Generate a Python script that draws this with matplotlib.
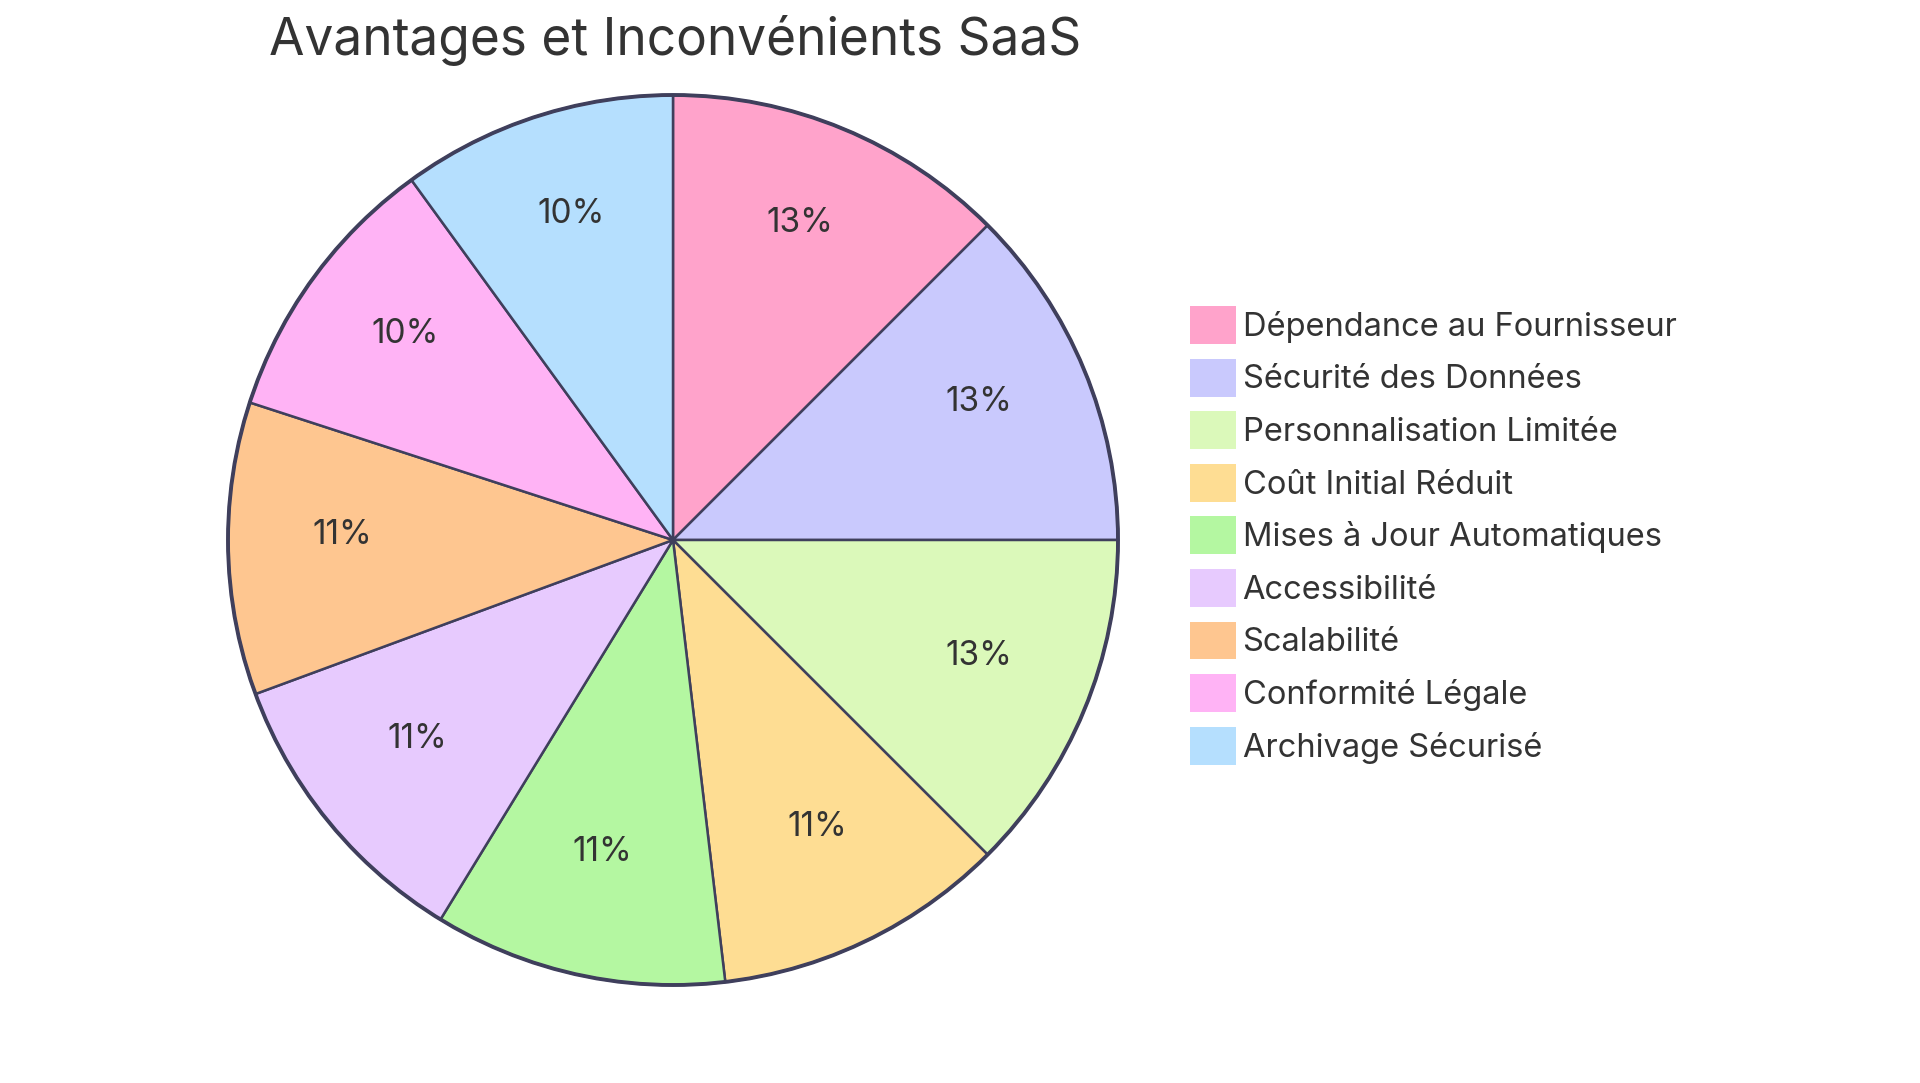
import matplotlib.pyplot as plt
from matplotlib.patches import Circle

plt.rcParams['font.family'] = ['Inter', 'DejaVu Sans']

categories = [
    "Dépendance au Fournisseur",
    "Sécurité des Données",
    "Personnalisation Limitée",
    "Coût Initial Réduit",
    "Mises à Jour Automatiques",
    "Accessibilité",
    "Scalabilité",
    "Conformité Légale",
    "Archivage Sécurisé",
]
values = [20, 20, 20, 17, 17, 17, 17, 16, 16]
colors = ['#FFA3CB', '#C9C9FD', '#DBF9BA', '#FEDD93', '#B4F7A1',
          '#E7CAFE', '#FEC690', '#FFB3F5', '#B5DFFE']
edge = '#3F3F5C'
text_col = '#333333'

W, H = 1920, 1083
fig = plt.figure(figsize=(W / 100, H / 100), dpi=100)

cx, cy, r = 673, 540, 445
ax = fig.add_axes([(cx - r) / W, (H - cy - r) / H, 2 * r / W, 2 * r / H])


def pct_label(p):
    # round half up (12.5 -> 13)
    return f"{int(p + 0.5 + 1e-6)}%"


wedges, texts, autotexts = ax.pie(
    values, colors=colors, startangle=90, counterclock=False,
    autopct=pct_label, pctdistance=0.744,
    wedgeprops=dict(edgecolor=edge, linewidth=1.8),
    textprops=dict(fontsize=24, color=text_col),
)
# labels sit slightly above the arc centroid
for t in autotexts:
    x, y = t.get_position()
    t.set_position((x, y + 0.025))
for w in wedges:
    w.set_clip_on(False)
outline = Circle((0, 0), 1, fill=False, edgecolor=edge, linewidth=2.8, clip_on=False)
ax.add_patch(outline)
ax.set_xlim(-1, 1)
ax.set_ylim(-1, 1)
ax.set_aspect('equal')
ax.axis('off')

fig.text(675 / W, 1 - 41 / H, "Avantages et Inconvénients SaaS",
         ha='center', va='center', fontsize=37, color=text_col)

leg = fig.legend(wedges, categories, loc='upper left',
                 bbox_to_anchor=(1190 / W, 1 - 306 / H),
                 frameon=False, fontsize=23.5, labelcolor=text_col,
                 handlelength=1.41, handleheight=1.41, handletextpad=0.2,
                 labelspacing=0.45, borderpad=0, borderaxespad=0)
for h in leg.legend_handles:
    h.set_edgecolor('none')

fig.savefig('out.png', dpi=100)
